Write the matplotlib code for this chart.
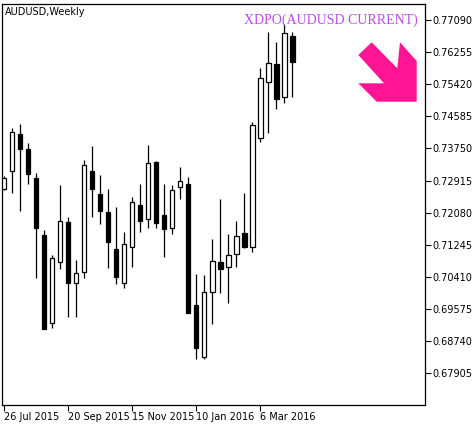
import matplotlib
matplotlib.use("Agg")
import matplotlib.pyplot as plt
from matplotlib.patches import Rectangle, Polygon

opens  = [.72696,.73164,.74126,.73736,.72982,.715,.69212,.70798,.71838,.70252,.70538,.73164,.72566,.72098,.71136,.70252,.71188,.7228,.71916,.73398,.7202,.71682,.72748,.72826,.6968,.68328,.70018,.70798,.70668,.71006,.71552,.71188,.74022,.75478,.75946,.75088,.76674]
highs  = [.73034,.74282,.74386,.73892,.73112,.7163,.7098,.728,.71968,.7085,.7345,.73814,.7306,.72696,.72228,.71578,.72488,.72826,.7384,.73424,.72826,.728,.73268,.73008,.70486,.7046,.71396,.72436,.71526,.71864,.72592,.74438,.75842,.76778,.76518,.76986,.76778]
lows   = [.7267,.72592,.72124,.72826,.70382,.69056,.69082,.70616,.69368,.69368,.70382,.71968,.71786,.70642,.70226,.70122,.70668,.71578,.71682,.71682,.70928,.71526,.72436,.69472,.68276,.68276,.69186,.69992,.69732,.70668,.71162,.71058,.73918,.74152,.74776,.74932,.75088]
closes = [.72982,.7418,.73736,.73086,.71682,.69056,.70902,.71864,.70252,.70512,.7332,.72696,.72124,.71318,.70408,.71266,.72358,.71864,.73372,.71812,.71656,.7267,.72904,.69472,.68562,.70018,.70824,.70616,.7098,.71474,.71188,.7436,.75582,.75972,.75036,.76752,.75998]
price_ticks = [0.77090,0.76255,0.75420,0.74585,0.73750,0.72915,0.72080,0.71245,0.70410,0.69575,0.68740,0.67905]
date_idx = [0, 8, 16, 24, 32]
date_labels = ["26 Jul 2015", "20 Sep 2015", "15 Nov 2015", "10 Jan 2016", "6 Mar 2016"]

W, H = 477, 425
fig = plt.figure(figsize=(W/100, H/100), dpi=100)
ax = fig.add_axes([2/W, 1-405/H, 423/W, 401/H])
ax.set_xlim(-0.25, 52.6)
ax.set_ylim(0.6708, 0.77506)

lw = 0.9
bw = 0.6
for i, (o, h, l, c) in enumerate(zip(opens, highs, lows, closes)):
    top, bot = max(o, c), min(o, c)
    ax.plot([i, i], [top, h], color='black', lw=lw, solid_capstyle='butt')
    ax.plot([i, i], [l, bot], color='black', lw=lw, solid_capstyle='butt')
    fc = 'white' if c > o else 'black'
    ax.add_patch(Rectangle((i - bw/2, bot), bw, max(top - bot, 0.00005),
                           facecolor=fc, edgecolor='black', lw=lw, zorder=3))

ax.yaxis.tick_right()
ax.set_yticks(price_ticks)
ax.set_yticklabels([f"{p:.5f}" for p in price_ticks])
ax.set_xticks(date_idx)
ax.set_xticklabels(date_labels, ha='left')
ax.tick_params(axis='both', labelsize=7, length=4, width=0.8, pad=1, colors='black')
for s in ax.spines.values():
    s.set_linewidth(0.9)

fig.text(5/W, 1-12/H, "AUDUSD,Weekly", fontsize=7, va='center', ha='left')
fig.text(418/W, 1-20/H, "XDPO(AUDUSD CURRENT)", fontsize=10, family='Liberation Serif',
         color='#B94CEA', ha='right', va='center')

arrow_px = [(371.7,42.3),(397.3,68.3),(400,42.3),(416.7,61),(416.7,101.7),
            (376.7,101.7),(358.3,83.3),(384,83.3),(358.3,55)]
pts = [(x/W, 1-y/H) for x, y in arrow_px]
fig.patches.append(Polygon(pts, closed=True, facecolor='#FF1493', edgecolor='none',
                           transform=fig.transFigure, figure=fig))

fig.savefig("out.png", dpi=100)
